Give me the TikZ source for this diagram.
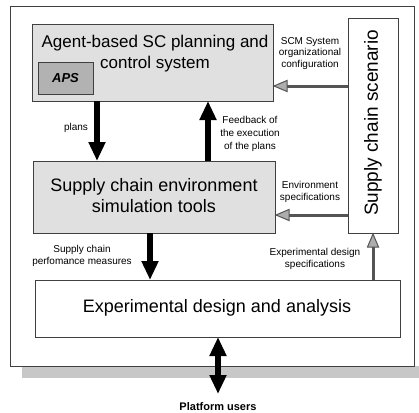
\documentclass[tikz,border=0pt]{standalone}
\usepackage{fontspec}
\setmainfont{Liberation Sans}
\usetikzlibrary{arrows.meta}
\definecolor{boxgray}{gray}{0.88}
\definecolor{apsgray}{gray}{0.70}
\definecolor{shadowgray}{gray}{0.78}
\definecolor{linegray}{gray}{0.33}
\definecolor{headgray}{gray}{0.68}
\tikzset{
  frame/.style={draw=black!75, line width=0.7pt},
  graybox/.style={frame, fill=boxgray},
  whitebox/.style={frame, fill=white},
  bigtxt/.style={font=\fontsize{18}{21}\selectfont, align=center, inner sep=0pt},
  smalltxt/.style={font=\fontsize{10}{12}\selectfont, align=center, inner sep=0pt},
  blackarrow/.style={line width=5.5pt, -{Triangle[width=16pt,length=19pt]}},
  dblarrow/.style={line width=5.5pt, {Triangle[width=16pt,length=19pt]}-{Triangle[width=16pt,length=19pt]}},
  grayshaft/.style={draw=linegray, line width=3pt, shorten >=10pt},
  grayhead/.style={draw=linegray, fill=headgray, line width=1pt, line join=miter}
}
\begin{document}
\begin{tikzpicture}[x=1pt,y=-1pt]
\useasboundingbox (0,0) rectangle (419,412);
% shadow and outer frame
\fill[shadowgray] (22,366) rectangle (419,378);
\draw[frame, fill=white] (10,6) rectangle (414,366);
% boxes
\draw[graybox] (32,24) rectangle (273,101);
\node (agent) [bigtxt, font=\fontsize{17}{21}\selectfont] at (155,54) {Agent-based SC planning and\\control system};
\draw[frame, fill=apsgray] (38,62) rectangle node (aps) [font=\fontsize{13}{15}\selectfont\bfseries\itshape] {APS} (93,94);
\draw[graybox] (33,161) rectangle (275,233);
\node (env) [bigtxt] at (154,196) {Supply chain environment\\simulation tools};
\draw[whitebox] (348,18) rectangle (398,233);
\node (scen) [bigtxt, font=\fontsize{19}{21}\selectfont, rotate=90] at (373,123) {Supply chain scenario};
\draw[whitebox] (35,280) rectangle (400,337);
\node (exp) [bigtxt] at (217,308) {Experimental design and analysis};
% coordinates for connectors
\coordinate (a1) at (97,101); \coordinate (e1) at (97,161);
\coordinate (e2) at (208,161); \coordinate (a2) at (208,101);
\coordinate (e3) at (150,233); \coordinate (x3) at (150,280);
\coordinate (s4) at (348,86); \coordinate (a4) at (274,86);
\coordinate (s5) at (348,215); \coordinate (e5) at (276,215);
\coordinate (x6) at (373,280); \coordinate (s6) at (373,234);
\coordinate (x7) at (218,337); \coordinate (u7) at (218,394);
% black arrows
\draw[blackarrow] (a1) -- (e1);
\draw[blackarrow] (e2) -- (a2);
\draw[blackarrow] (e3) -- (x3);
\draw[dblarrow] (x7) -- (u7);
% gray arrows
\draw[grayshaft] (s4) -- (a4);
\filldraw[grayhead] (a4) -- ++(13,-5.5) -- ++(0,11) -- cycle;
\draw[grayshaft] (s5) -- (e5);
\filldraw[grayhead] (e5) -- ++(13,-5.5) -- ++(0,11) -- cycle;
\draw[grayshaft] (x6) -- (s6);
\filldraw[grayhead] (s6) -- ++(-5.5,13) -- ++(11,0) -- cycle;
% labels
\node (lplans) [smalltxt] at (76,128) {plans};
\node (lfeed) [smalltxt, font=\fontsize{10}{13}\selectfont] at (250,134) {Feedback of\\the execution\\of the plans};
\node (lscm) [smalltxt, font=\fontsize{10}{11.5}\selectfont] at (310,53.5) {SCM System\\organizational\\configuration};
\node (lenv) [smalltxt] at (310,191.5) {Environment\\specifications};
\node (lperf) [smalltxt] at (82,256) {Supply chain\\perfomance measures};
\node (lexp) [smalltxt] at (315,259) {Experimental design\\specifications};
\node (lusers) [font=\fontsize{11}{13}\selectfont\bfseries, inner sep=0pt] at (218,407) {Platform users};
\end{tikzpicture}
\end{document}
